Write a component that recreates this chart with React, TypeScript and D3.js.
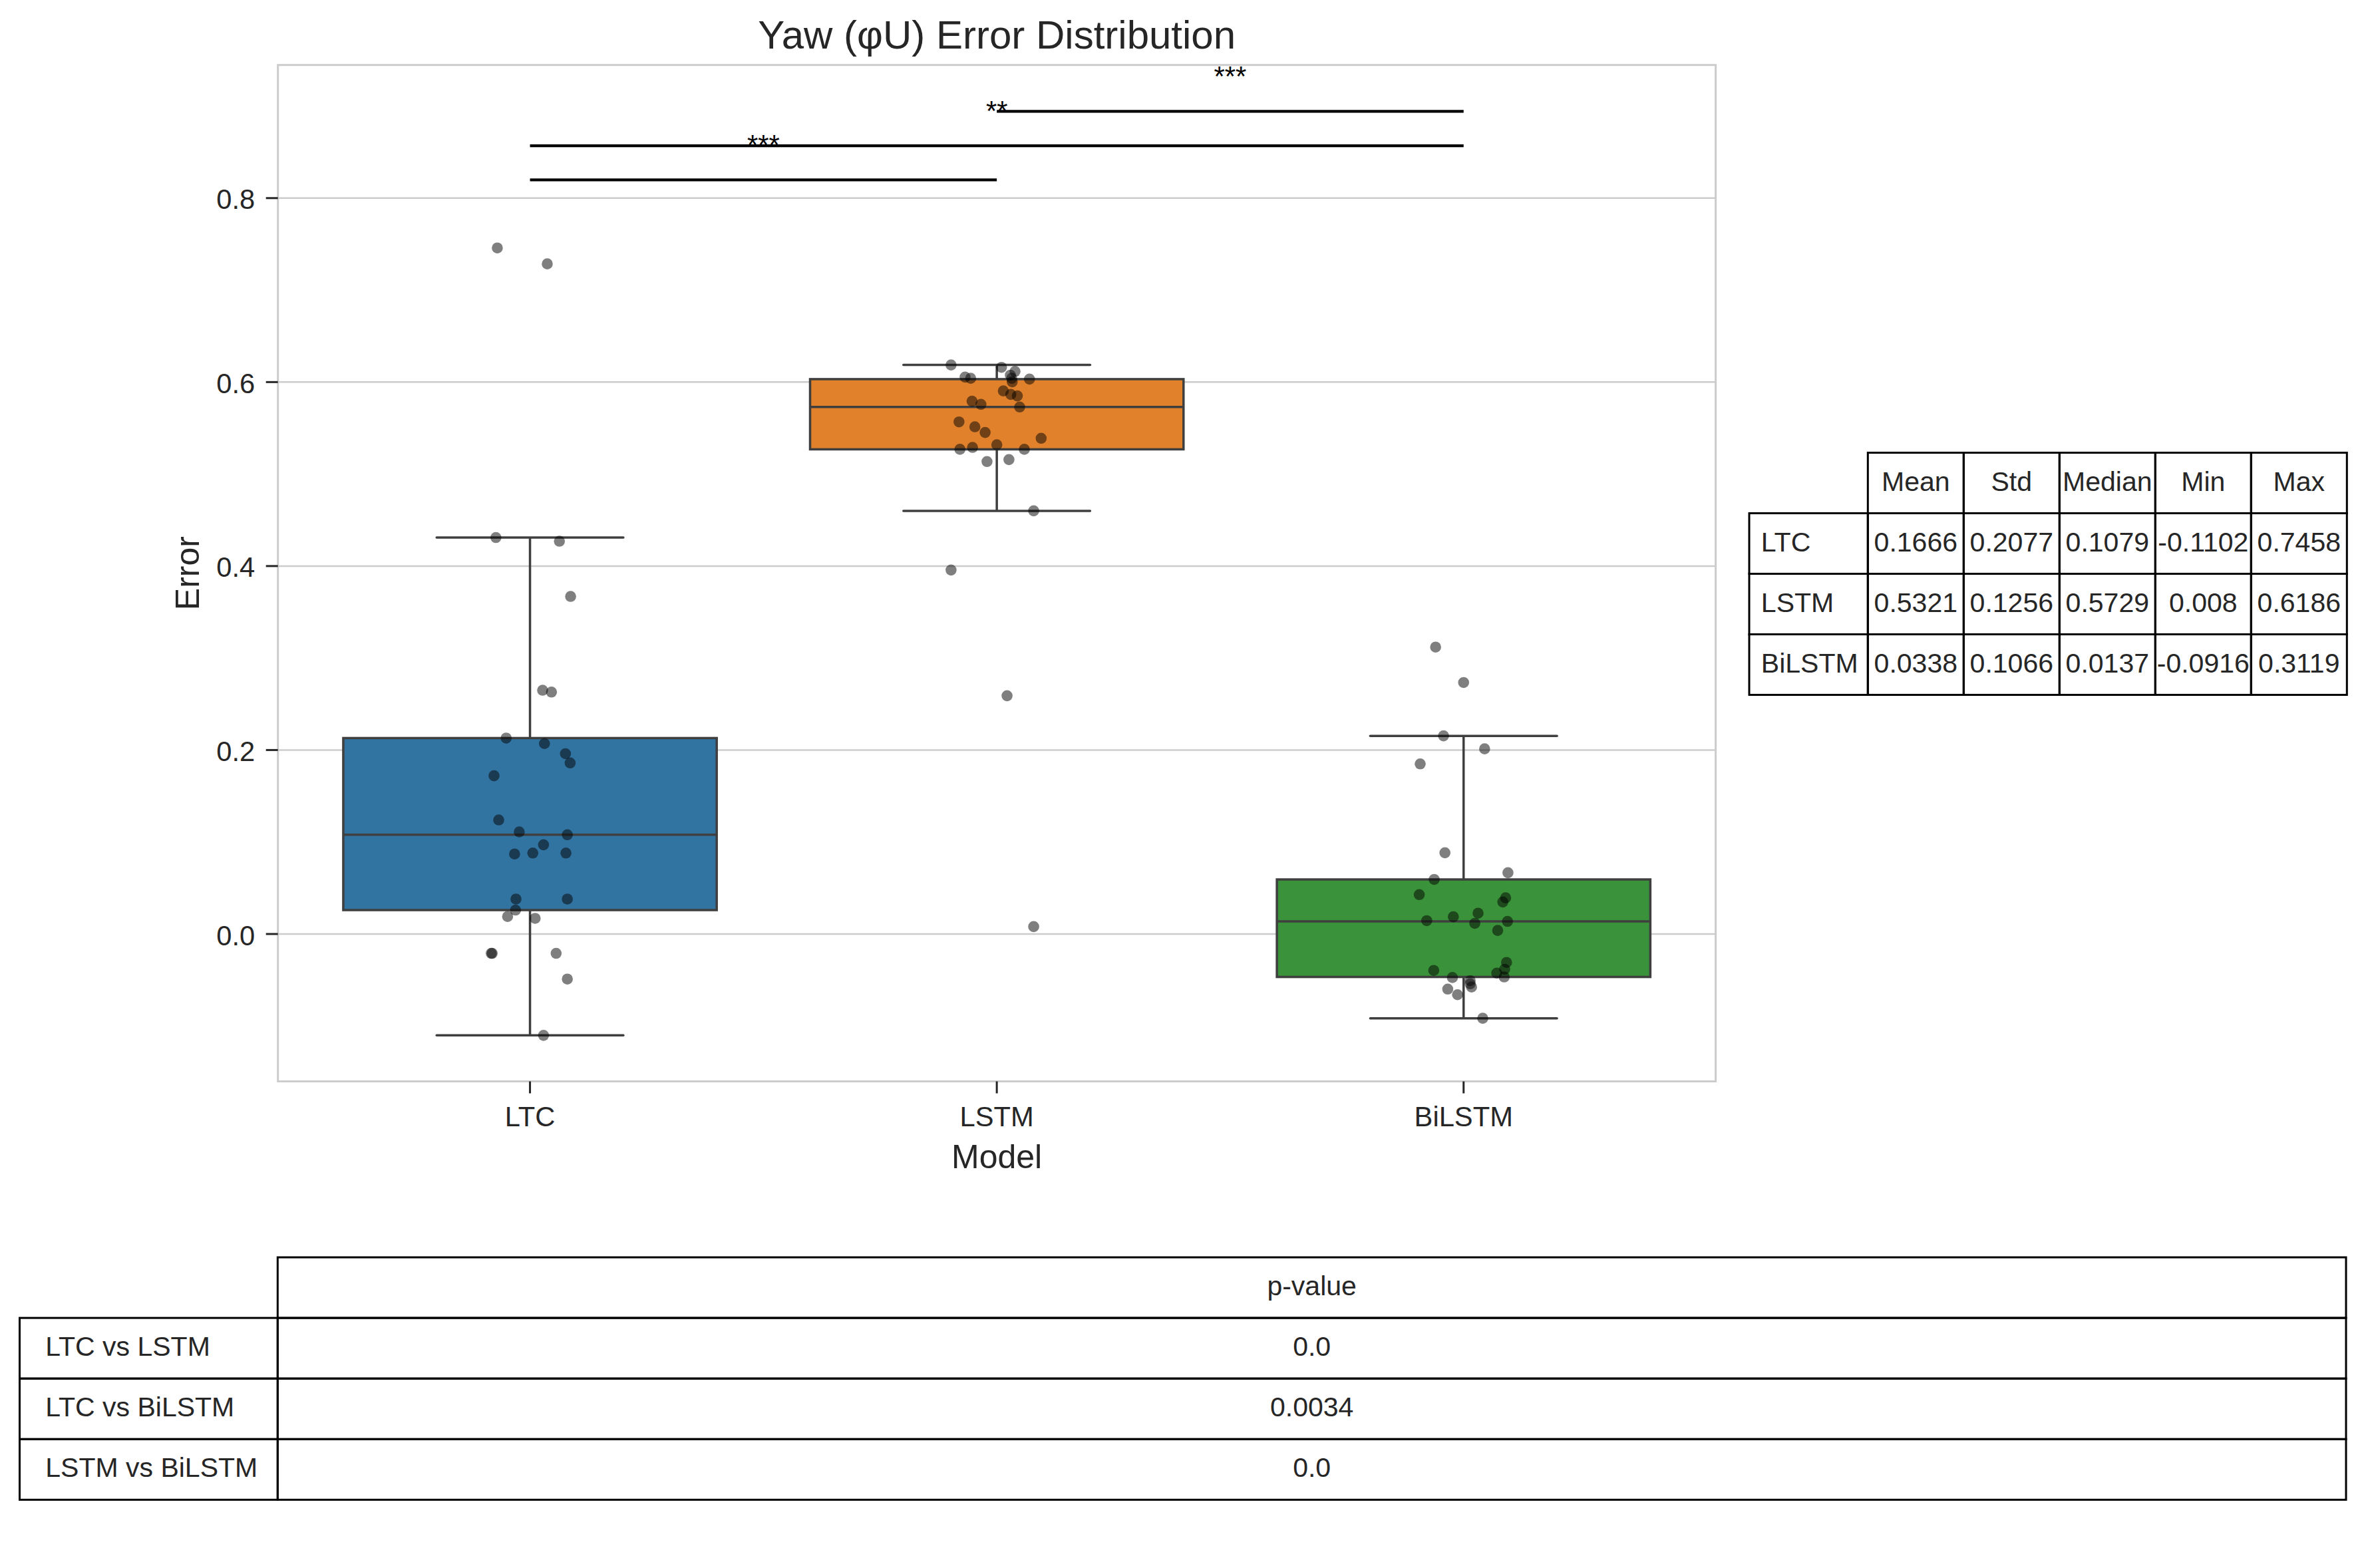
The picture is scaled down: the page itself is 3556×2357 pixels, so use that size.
import React from 'react';
import * as d3 from 'd3';

const W = 3556;
const H = 2357;
const FONT = '"Liberation Sans", Arial, sans-serif';
const INK = '#262626';

const models = ['LTC', 'LSTM', 'BiLSTM'];
const boxColors = ['#3274a1', '#e1812c', '#3a923a'];

// per-sample errors, with the strip jitter (in category units)
const ltcErrors = [0.7458, 0.7285, 0.431, 0.427, 0.367, 0.265, 0.263, 0.213, 0.207, 0.196, 0.186, 0.172, 0.124, 0.111, 0.1079, 0.097, 0.087, 0.088, 0.088, 0.038, 0.038, 0.026, 0.019, 0.017, -0.021, -0.021, -0.021, -0.049, -0.1102];
const ltcJitter = [-0.07, 0.037, -0.073, 0.063, 0.087, 0.027, 0.046, -0.051, 0.031, 0.076, 0.086, -0.077, -0.067, -0.023, 0.08, 0.029, -0.033, 0.006, 0.077, -0.03, 0.08, -0.031, -0.048, 0.011, -0.083, -0.081, 0.056, 0.08, 0.029];

const lstmErrors = [0.6186, 0.616, 0.6116, 0.6075, 0.6054, 0.6041, 0.6041, 0.6032, 0.6003, 0.5904, 0.5866, 0.585, 0.5792, 0.5758, 0.5729, 0.5567, 0.5514, 0.5452, 0.5389, 0.5319, 0.529, 0.5269, 0.5269, 0.5157, 0.5136, 0.46, 0.3957, 0.259, 0.008];
const lstmJitter = [-0.098, 0.01, 0.039, 0.029, -0.068, -0.056, 0.032, 0.07, 0.033, 0.014, 0.03, 0.044, -0.053, -0.034, 0.049, -0.081, -0.047, -0.025, 0.095, 0.0, -0.052, -0.079, 0.059, 0.026, -0.021, 0.079, -0.098, 0.022, 0.079];

const bilstmErrors = [0.3119, 0.2734, 0.2154, 0.2013, 0.1849, 0.0883, 0.0666, 0.0593, 0.0428, 0.0393, 0.0348, 0.0226, 0.0187, 0.0145, 0.0137, 0.0116, 0.0039, -0.0309, -0.0396, -0.0383, -0.0425, -0.0473, -0.0467, -0.0508, -0.0541, -0.0576, -0.0599, -0.066, -0.0916];
const bilstmJitter = [-0.06, 0.0, -0.043, 0.045, -0.093, -0.04, 0.095, -0.063, -0.095, 0.09, 0.084, 0.031, -0.022, -0.079, 0.094, 0.024, 0.073, 0.092, -0.064, 0.088, 0.071, -0.024, 0.087, 0.014, 0.014, 0.017, -0.034, -0.013, 0.041];

const errors = [ltcErrors, lstmErrors, bilstmErrors];
const jitters = [ltcJitter, lstmJitter, bilstmJitter];

const yTicks = [0, 0.2, 0.4, 0.6, 0.8];

// significance brackets
const sigPairs = [[0, 1], [0, 2], [1, 2]];
const sigLevels = [0.8198, 0.8569, 0.8943];
const sigLabels = ['***', '**', '***'];

// summary table
const statColumns = ['Mean', 'Std', 'Median', 'Min', 'Max'];
const statValues = [
  ['0.1666', '0.2077', '0.1079', '-0.1102', '0.7458'],
  ['0.5321', '0.1256', '0.5729', '0.008', '0.6186'],
  ['0.0338', '0.1066', '0.0137', '-0.0916', '0.3119'],
];

// p-value table
const pairNames = ['LTC vs LSTM', 'LTC vs BiLSTM', 'LSTM vs BiLSTM'];
const pValues = ['0.0', '0.0034', '0.0'];

const plot = { left: 417.7, right: 2578.6, top: 97.7, bottom: 1625.5 };

interface TableProps {
  left: number;
  labelW: number;
  colW: number;
  top: number;
  rowH: number;
  cols: string[];
  rows: string[];
  cells: string[][];
}

const Table = ({ left, labelW, colW, top, rowH, cols, rows, cells }: TableProps) => {
  const x0 = left + labelW;
  const fs = 41;
  const dy = 11.5;
  return (
    <g fontFamily={FONT} fontSize={fs} fill={INK}>
      {cols.map((c, j) => (
        <g key={'h' + j}>
          <rect x={x0 + j * colW} y={top} width={colW} height={rowH} fill="none" stroke="#000" strokeWidth={3} />
          <text x={x0 + j * colW + colW / 2} y={top + rowH / 2 + dy} textAnchor="middle">{c}</text>
        </g>
      ))}
      {rows.map((r, i) => {
        const y = top + (i + 1) * rowH;
        return (
          <g key={'r' + i}>
            <rect x={left} y={y} width={labelW} height={rowH} fill="none" stroke="#000" strokeWidth={3} />
            <text x={left + labelW * 0.1} y={y + rowH / 2 + dy}>{r}</text>
            {cells[i].map((v, j) => (
              <g key={j}>
                <rect x={x0 + j * colW} y={y} width={colW} height={rowH} fill="none" stroke="#000" strokeWidth={3} />
                <text x={x0 + j * colW + colW / 2} y={y + rowH / 2 + dy} textAnchor="middle">{v}</text>
              </g>
            ))}
          </g>
        );
      })}
    </g>
  );
};

const App = () => {
  const x = d3.scaleLinear().domain([-0.54, 2.54]).range([plot.left, plot.right]);
  const y = d3.scaleLinear().domain([-0.1602, 0.9447]).range([plot.bottom, plot.top]);
  const fmt = d3.format('.1f');

  const boxes = errors.map((vals) => {
    const s = vals.slice().sort(d3.ascending);
    const q1 = d3.quantile(s, 0.25)!;
    const med = d3.quantile(s, 0.5)!;
    const q3 = d3.quantile(s, 0.75)!;
    const iqr = q3 - q1;
    const lo = d3.min(s.filter((v) => v >= q1 - 1.5 * iqr))!;
    const hi = d3.max(s.filter((v) => v <= q3 + 1.5 * iqr))!;
    return { q1, med, q3, lo, hi };
  });

  const edge = '#3f3f3f';
  const lw = 3.5;

  return (
    <svg width={W} height={H} style={{ position: 'absolute', left: 0, top: 0, background: '#fff' }}>
      <rect x={0} y={0} width={W} height={H} fill="#fff" />

      {/* grid */}
      {yTicks.map((t) => (
        <line key={t} x1={plot.left} x2={plot.right} y1={y(t)} y2={y(t)} stroke="#cccccc" strokeWidth={2.5} />
      ))}

      {/* boxes */}
      {boxes.map((b, i) => (
        <g key={i} stroke={edge} strokeWidth={lw}>
          <line x1={x(i)} x2={x(i)} y1={y(b.q3)} y2={y(b.hi)} />
          <line x1={x(i)} x2={x(i)} y1={y(b.q1)} y2={y(b.lo)} />
          <line x1={x(i - 0.2)} x2={x(i + 0.2)} y1={y(b.hi)} y2={y(b.hi)} strokeLinecap="round" />
          <line x1={x(i - 0.2)} x2={x(i + 0.2)} y1={y(b.lo)} y2={y(b.lo)} strokeLinecap="round" />
          <rect x={x(i - 0.4)} y={y(b.q3)} width={x(i + 0.4) - x(i - 0.4)} height={y(b.q1) - y(b.q3)} fill={boxColors[i]} />
          <line x1={x(i - 0.4)} x2={x(i + 0.4)} y1={y(b.med)} y2={y(b.med)} />
        </g>
      ))}

      {/* strip points */}
      {errors.map((vals, i) =>
        vals.map((v, k) => (
          <circle key={i + '-' + k} cx={x(i + jitters[i][k])} cy={y(v)} r={8.3} fill="#000" fillOpacity={0.5} />
        ))
      )}

      {/* significance */}
      {sigPairs.map(([a, b], k) => (
        <g key={k}>
          <line x1={x(a)} x2={x(b)} y1={y(sigLevels[k])} y2={y(sigLevels[k])} stroke="#000" strokeWidth={4.2} />
          <text x={x((a + b) / 2)} y={y(sigLevels[k] + 0.0275)} textAnchor="middle" fontFamily={FONT} fontSize={41.7} fill="#000">
            {sigLabels[k]}
          </text>
        </g>
      ))}

      {/* spines */}
      <rect x={plot.left} y={plot.top} width={plot.right - plot.left} height={plot.bottom - plot.top} fill="none" stroke="#cccccc" strokeWidth={3} />

      {/* y axis */}
      {yTicks.map((t) => (
        <g key={t}>
          <line x1={plot.left - 18} x2={plot.left} y1={y(t)} y2={y(t)} stroke={INK} strokeWidth={3} />
          <text x={383.3} y={y(t) + 16.6} textAnchor="end" fontFamily={FONT} fontSize={41.7} fill={INK}>
            {fmt(t)}
          </text>
        </g>
      ))}
      <text transform={`translate(299, ${(plot.top + plot.bottom) / 2}) rotate(-90)`} textAnchor="middle" fontFamily={FONT} fontSize={50} fill={INK}>
        Error
      </text>

      {/* x axis */}
      {models.map((m, i) => (
        <g key={m}>
          <line x1={x(i)} x2={x(i)} y1={plot.bottom} y2={plot.bottom + 18} stroke={INK} strokeWidth={3} />
          <text x={x(i)} y={1693.3} textAnchor="middle" fontFamily={FONT} fontSize={41.7} fill={INK}>
            {m}
          </text>
        </g>
      ))}
      <text x={(plot.left + plot.right) / 2} y={1755.7} textAnchor="middle" fontFamily={FONT} fontSize={50} fill={INK}>
        Model
      </text>

      {/* title */}
      <text x={(plot.left + plot.right) / 2} y={73.3} textAnchor="middle" fontFamily={FONT} fontSize={60} fill={INK}>
        Yaw (φU) Error Distribution
      </text>

      <Table left={2629} labelW={178.3} colW={144} top={680.5} rowH={91} cols={statColumns} rows={models} cells={statValues} />
      <Table left={29.5} labelW={387.8} colW={3108.7} top={1890} rowH={91.1} cols={['p-value']} rows={pairNames} cells={pValues.map((p) => [p])} />
    </svg>
  );
};

export default App;
